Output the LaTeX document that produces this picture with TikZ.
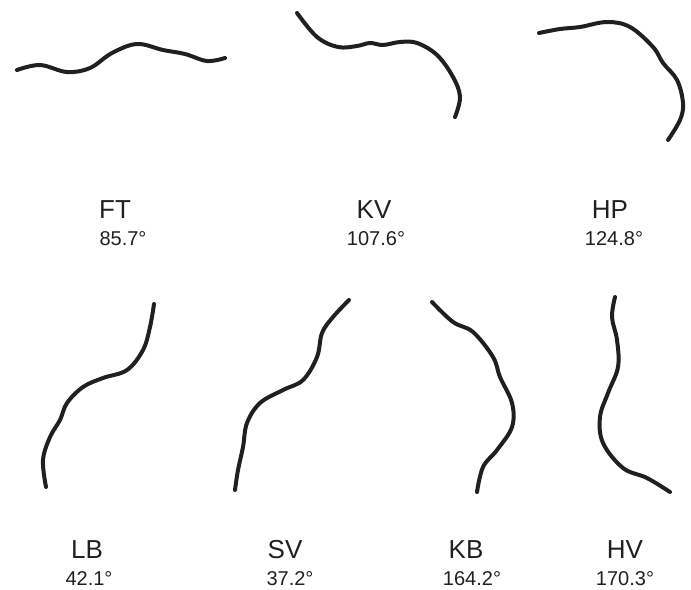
\documentclass[tikz,border=0pt]{standalone}
\usepackage{fontspec}
\setmainfont{Liberation Sans}
\usetikzlibrary{positioning}
\definecolor{inkblack}{HTML}{231F20}
\begin{document}
\begin{tikzpicture}[x=0.75pt, y=-0.75pt,
  curve/.style={draw=inkblack, line width=3pt, line cap=round, line join=round},
  spine/.style={text=inkblack, inner sep=0pt, anchor=base, font=\fontsize{19.5}{20}\selectfont},
  angle/.style={text=inkblack, inner sep=0pt, anchor=base, font=\fontsize{15}{16}\selectfont}]
  \useasboundingbox (0,0) rectangle (691,589);

  % top row
  \draw[curve] plot[smooth, tension=0.6] coordinates {(17,70) (40,65) (67,72) (90,68) (112,53) (137,44) (163,50) (185,54) (207,61) (225,58)};
  \draw[curve] plot[smooth, tension=0.6] coordinates {(297,13) (317,37) (338,47) (357,46) (370,43) (383,45) (400,42) (417,43) (437,55) (453,77) (460,97) (455,117)};
  \draw[curve] plot[smooth, tension=0.6] coordinates {(539,33) (560,29) (580,27) (607,22) (630,27) (653,47) (663,63) (677,80) (683,103) (680,120) (668,140)};

  \node[spine] (FT) at (115,218) {FT};
  \node[angle] (FTdeg) at (123,245) {85.7°};
  \node[spine] (KV) at (374,218) {KV};
  \node[angle] (KVdeg) at (376,245) {107.6°};
  \node[spine] (HP) at (610,218) {HP};
  \node[angle] (HPdeg) at (614,245) {124.8°};

  % bottom row
  \draw[curve] plot[smooth, tension=0.6] coordinates {(154,304) (150,327) (143,350) (127,370) (103,378) (83,387) (67,403) (60,420) (50,437) (43,460) (46,487)};
  \draw[curve] plot[smooth, tension=0.6] coordinates {(349,300) (333,317) (322,333) (317,357) (303,380) (283,390) (260,403) (247,423) (243,447) (238,470) (235,490)};
  \draw[curve] plot[smooth, tension=0.6] coordinates {(432,302) (453,322) (473,332) (493,357) (500,377) (512,403) (512,427) (497,450) (483,467) (477,492)};
  \draw[curve] plot[smooth, tension=0.6] coordinates {(615,297) (612,317) (617,340) (618,367) (608,393) (600,417) (603,443) (623,468) (647,478) (670,492)};

  \node[spine] (LB) at (87,558) {LB};
  \node[angle] (LBdeg) at (89,585) {42.1°};
  \node[spine] (SV) at (285,558) {SV};
  \node[angle] (SVdeg) at (290,585) {37.2°};
  \node[spine] (KB) at (466,558) {KB};
  \node[angle] (KBdeg) at (472,585) {164.2°};
  \node[spine] (HV) at (625,558) {HV};
  \node[angle] (HVdeg) at (625,585) {170.3°};
\end{tikzpicture}
\end{document}
